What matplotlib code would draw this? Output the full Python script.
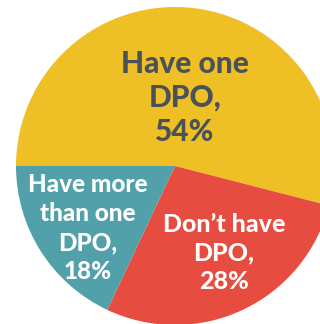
import matplotlib
matplotlib.use("Agg")
import matplotlib.pyplot as plt

# Share of organisations by number of DPOs
categories = ["Have one\nDPO", "Don\u2019t have\nDPO", "Have more\nthan one\nDPO"]
shares = [54, 28, 18]
colors = ["#EFBF26", "#E64C3F", "#52A0AA"]
text_colors = ["#4A5259", "#FFFFFF", "#FFFFFF"]

W, H = 320, 324
fig = plt.figure(figsize=(W / 100, H / 100), dpi=100)
ax = fig.add_axes([0, 0, 1, 1])

cx, cy, r = 175, H - 166, 159
ax.pie(shares, colors=colors, startangle=180, counterclock=False,
       center=(cx, cy), radius=r, frame=True,
       wedgeprops=dict(linewidth=0))
ax.set_xlim(0, W)
ax.set_ylim(0, H)
ax.set_aspect("equal")
ax.axis("off")

family = ["Lato", "DejaVu Sans"]
# (x, y, fontsize, linespacing) for each label block
label_pos = [(185, H - 98, 21.5, 1.26),
             (224, H - 253, 18, 1.30),
             (88, H - 228, 17.5, 1.33)]
for cat, val, tc, (x, y, fs, ls) in zip(categories, shares, text_colors, label_pos):
    ax.text(x, y, f"{cat},\n{val}%", ha="center", va="center",
            color=tc, fontsize=fs, fontweight="black", family=family,
            linespacing=ls)

fig.savefig("out.png", dpi=100)
